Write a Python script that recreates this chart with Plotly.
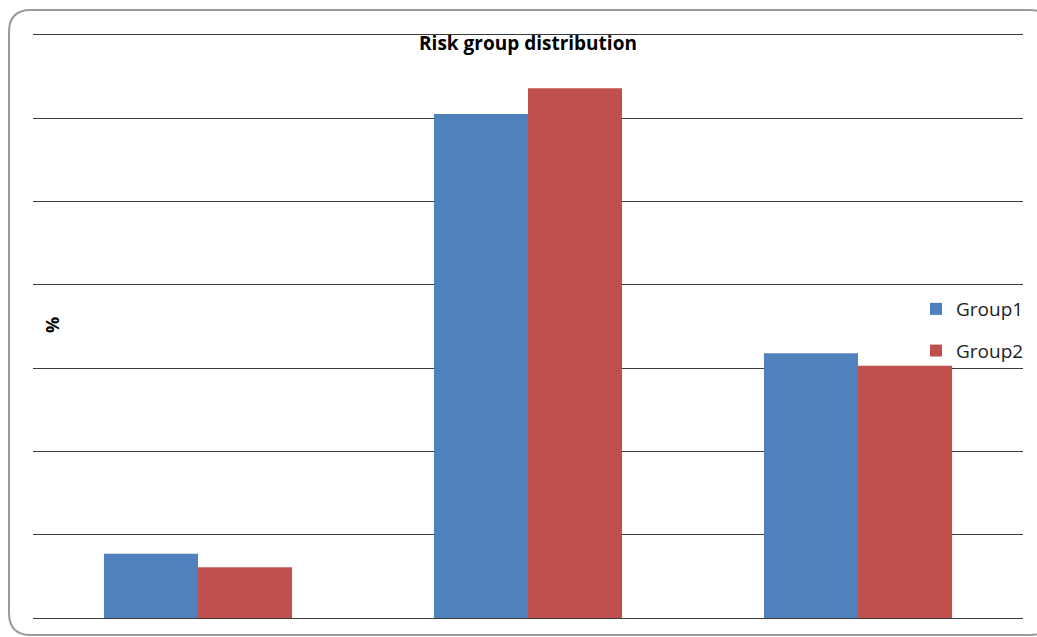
import plotly.graph_objects as go

# Risk-group shares (%) for the two groups
categories = ["Low", "Intermediate", "High"]
group1 = [7.7, 60.5, 31.8]
group2 = [6.1, 63.6, 30.3]
series_names = ["Group1", "Group2"]
colors = ["#4F81BD", "#C0504D"]

W, H = 1037, 637
ML, MR, MT, MB = 33, 14, 35, 19
PW, PH = W - ML - MR, H - MT - MB


def px(x):
    return (x - ML) / PW


def py(y):
    return 1 - (y - MT) / PH


fig = go.Figure()
for name, vals, col in zip(series_names, [group1, group2], colors):
    fig.add_trace(go.Bar(
        x=categories, y=vals, name=name, legendgroup=name,
        marker=dict(color=col, line=dict(width=0)),
    ))

# rounded chart-area frame
x0, y0, x1, y1, r = 9, 10, 1052, 635, 22
path = (
    f"M {px(x0 + r)} {py(y0)} L {px(x1 - r)} {py(y0)} "
    f"Q {px(x1)} {py(y0)} {px(x1)} {py(y0 + r)} "
    f"L {px(x1)} {py(y1 - r)} Q {px(x1)} {py(y1)} {px(x1 - r)} {py(y1)} "
    f"L {px(x0 + r)} {py(y1)} Q {px(x0)} {py(y1)} {px(x0)} {py(y1 - r)} "
    f"L {px(x0)} {py(y0 + r)} Q {px(x0)} {py(y0)} {px(x0 + r)} {py(y0)} Z"
)

fig.update_layout(
    width=W, height=H,
    margin=dict(l=ML, r=MR, t=MT, b=MB, autoexpand=False),
    paper_bgcolor="white", plot_bgcolor="white",
    barmode="group", bargap=0.43, bargroupgap=0,
    font=dict(family="Open Sans, Liberation Sans, sans-serif", color="#000000"),
    title=dict(
        text="<b>Risk group distribution</b>",
        x=0.5, xanchor="center", xref="paper",
        y=1 - 43 / H, yanchor="middle",
        font=dict(size=19, color="#000000"),
    ),
    xaxis=dict(
        showticklabels=False, ticks="", showgrid=False,
        showline=True, mirror=True, linecolor="#3a3a3a", linewidth=1,
        range=[-0.5, 2.5],
    ),
    yaxis=dict(
        range=[0, 70], dtick=10, showticklabels=False, ticks="",
        showgrid=True, gridcolor="#3a3a3a", gridwidth=1,
        zeroline=False, showline=False,
    ),
    legend=dict(
        x=px(916), y=py(290), xanchor="left", yanchor="top",
        bgcolor="rgba(0,0,0,0)", font=dict(size=19, color="#222222"),
        traceorder="grouped", tracegroupgap=14,
    ),
    shapes=[dict(
        type="path", path=path, xref="paper", yref="paper",
        line=dict(color="#9a9a9a", width=2), layer="below",
    )],
    annotations=[dict(
        text="<b>%</b>", x=px(52), y=py(325), xref="paper", yref="paper",
        showarrow=False, textangle=-90, font=dict(size=18, color="#000000"),
        xanchor="center", yanchor="middle",
    )],
)

fig.write_html("out.html")
